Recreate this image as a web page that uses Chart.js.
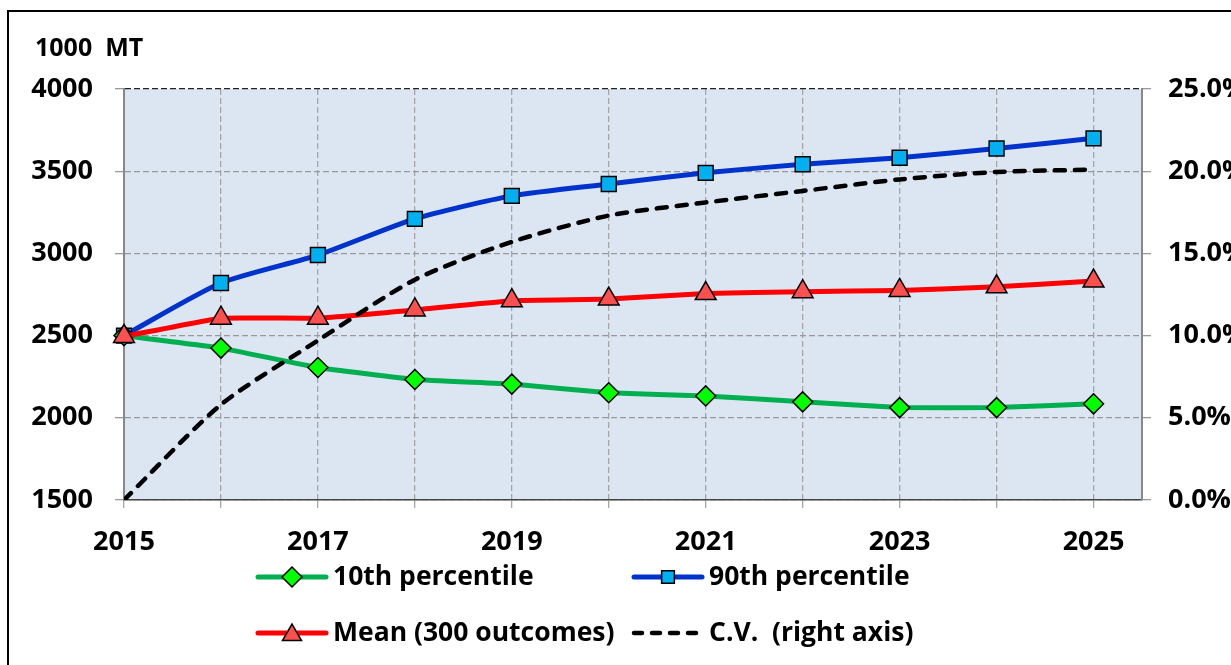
<!DOCTYPE html>
<html>
<head>
<meta charset="utf-8">
<script src="https://cdn.jsdelivr.net/npm/chart.js@4.4.1/dist/chart.umd.min.js"></script>
<style>
  html, body { margin: 0; padding: 0; background: #fff; }
  #wrap { position: relative; width: 1231px; height: 665px; overflow: hidden; }
  #frame { position: absolute; left: 7px; top: 10px; width: 1260px; height: 700px;
           border: 2px solid #000; box-sizing: border-box; }
  #outlook { position: absolute; left: 0; top: 0; }
</style>
</head>
<body>
<div id="wrap">
  <div id="frame"></div>
  <canvas id="outlook" width="1231" height="665"></canvas>
</div>
<script>
// projection years and outcome series (1000 MT), C.V. in percent
const years = [2015, 2016, 2017, 2018, 2019, 2020, 2021, 2022, 2023, 2024, 2025];
const p10  = [2500, 2424, 2306, 2233, 2205, 2152, 2133, 2097, 2062, 2062, 2085];
const p90  = [2500, 2820, 2990, 3210, 3350, 3422, 3490, 3542, 3582, 3638, 3700];
const mean = [2495, 2606, 2606, 2656, 2712, 2722, 2756, 2767, 2775, 2797, 2832];
const cv   = [0, 5.8, 9.7, 13.4, 15.7, 17.3, 18.1, 18.8, 19.5, 19.95, 20.1];

const leftTicks  = [1500, 2000, 2500, 3000, 3500, 4000];
const rightTicks = [0, 5, 10, 15, 20, 25];
const yearLabels = [2015, 2017, 2019, 2021, 2023, 2025];

const unitLabel = '1000  MT';
const FONT = '"Open Sans", "DejaVu Sans", sans-serif';

const pts = arr => arr.map((v, i) => ({ x: years[i], y: v }));

const series = {
  cv:   { label: 'C.V.  (right axis)', data: pts(cv), yAxisID: 'y1',
          borderColor: '#000', borderWidth: 4.5, borderDash: [10, 10], borderCapStyle: 'round',
          pointRadius: 0, tension: 0.25 },
  mean: { label: 'Mean (300 outcomes)', data: pts(mean), yAxisID: 'y',
          borderColor: '#ff0000', borderWidth: 5, tension: 0.1, clip: false,
          pointStyle: 'triangle', pointRadius: 12, pointBackgroundColor: '#ff5050',
          pointBorderColor: '#000', pointBorderWidth: 1.5 },
  p10:  { label: '10th percentile', data: pts(p10), yAxisID: 'y',
          borderColor: '#00b050', borderWidth: 5, tension: 0.1, clip: false,
          pointStyle: 'rectRot', pointRadius: 10, pointBackgroundColor: '#00ff00',
          pointBorderColor: '#000', pointBorderWidth: 1.5 },
  p90:  { label: '90th percentile', data: pts(p90), yAxisID: 'y',
          borderColor: '#0033cc', borderWidth: 5, tension: 0.22, clip: false,
          pointStyle: 'rect', pointRadius: 10.5, pointBackgroundColor: '#00b0f0',
          pointBorderColor: '#000', pointBorderWidth: 1.5 }
};

// two-column legend under the x axis: line with marker, then label
const legendRows = [
  [['p10', 256, 577], ['p90', 632, 577]],
  [['mean', 256, 633], ['cv', 632, 633]]
];

const plotBackground = {
  id: 'plotBackground',
  beforeDraw(chart) {
    const { ctx, chartArea: a } = chart;
    ctx.save();
    ctx.fillStyle = '#dce6f2';
    ctx.fillRect(a.left, a.top, a.right - a.left, a.bottom - a.top);
    ctx.restore();
  }
};

const extras = {
  id: 'extras',
  afterDraw(chart) {
    const ctx = chart.ctx;
    ctx.save();
    ctx.fillStyle = '#000';
    ctx.textBaseline = 'middle';
    ctx.textAlign = 'left';
    ctx.font = 'bold 25px ' + FONT;
    ctx.fillText(unitLabel, 35, 49);

    ctx.font = 'bold 26.5px ' + FONT;
    legendRows.flat().forEach(([key, x, y]) => {
      const s = series[key];
      ctx.save();
      ctx.strokeStyle = s.borderColor;
      ctx.lineWidth = key === 'cv' ? 4.5 : 5;
      ctx.lineCap = 'round';
      if (s.borderDash) ctx.setLineDash([8, 10]);
      ctx.beginPath();
      ctx.moveTo(x + 2, y);
      ctx.lineTo(x + 70, y);
      ctx.stroke();
      ctx.setLineDash([]);
      if (s.pointRadius) {
        ctx.fillStyle = s.pointBackgroundColor;
        ctx.strokeStyle = '#000';
        ctx.lineWidth = 1.5;
        Chart.helpers.drawPoint(ctx, {
          pointStyle: s.pointStyle,
          radius: key === 'p90' ? 9 : (key === 'mean' ? 11 : 10),
          rotation: 0,
          borderWidth: 1.5
        }, x + 36, y + (key === 'mean' ? 2 : 0));
      }
      ctx.restore();
      ctx.fillText(s.label, x + 77, y);
    });
    ctx.restore();
  }
};

const tickFont = { family: FONT, size: 27, weight: 'bold' };

new Chart(document.getElementById('outlook').getContext('2d'), {
  type: 'line',
  data: { datasets: [series.cv, series.mean, series.p10, series.p90] },
  options: {
    responsive: false,
    animation: false,
    devicePixelRatio: 1,
    layout: { padding: { left: 0, right: 0, top: 89, bottom: 105 } },
    plugins: { legend: { display: false }, tooltip: { enabled: false } },
    scales: {
      x: {
        type: 'linear',
        min: 2015,
        max: 2025.5,
        afterFit: s => { s.height = 60; },
        afterBuildTicks: s => { s.ticks = years.map(v => ({ value: v })); },
        ticks: {
          font: tickFont, color: '#000', padding: 18, maxRotation: 0, autoSkip: false,
          callback: v => yearLabels.includes(v) ? String(v) : ''
        },
        grid: { color: '#a6a6a6', lineWidth: 1.3, tickLength: 8, tickColor: '#a6a6a6' },
        border: { color: '#444', width: 1.5, dash: [6, 3] }
      },
      y: {
        position: 'left',
        min: 1500,
        max: 4000,
        afterFit: s => { s.width = 124; },
        afterBuildTicks: s => { s.ticks = leftTicks.map(v => ({ value: v })); },
        ticks: { font: tickFont, color: '#000', padding: 22, callback: v => String(v) },
        grid: {
          color: c => (c.tick && c.tick.value === 4000) ? '#222' : '#999',
          lineWidth: 1.3, tickLength: 9, tickColor: '#999'
        },
        border: { color: '#888', width: 2, dash: [6, 3] }
      },
      y1: {
        position: 'right',
        min: 0,
        max: 25,
        afterFit: s => { s.width = 89; },
        afterBuildTicks: s => { s.ticks = rightTicks.map(v => ({ value: v })); },
        ticks: { font: tickFont, color: '#000', padding: 17, callback: v => v.toFixed(1) + '%' },
        grid: { drawOnChartArea: false, tickLength: 9, tickColor: '#999', lineWidth: 1.3 },
        border: { color: '#888', width: 2 }
      }
    }
  },
  plugins: [plotBackground, extras]
});
</script>
</body>
</html>
